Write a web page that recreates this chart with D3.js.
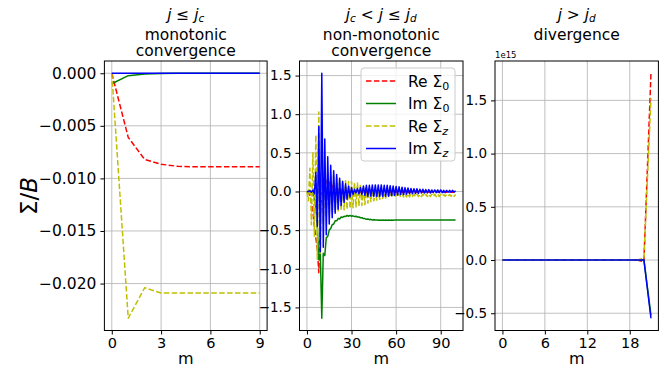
<!DOCTYPE html>
<html><head><meta charset="utf-8">
<script src="https://cdn.jsdelivr.net/npm/d3@7/dist/d3.min.js"></script>
<style>
body{margin:0;background:#fff}
text{font-family:"DejaVu Sans",sans-serif;fill:#000}
</style>
</head><body>
<svg id="c" width="660" height="367"></svg>
<script>
// ---------------- DATA ----------------
const seriesLabels = ["Re Σ0","Im Σ0","Re Σz","Im Σz"];

// panel 1: j <= jc, monotonic convergence
const monoRe0 = [0, -0.0061, -0.0082, -0.00865, -0.00885, -0.0089, -0.0089, -0.0089, -0.0089, -0.0089];
const monoIm0 = [-0.001, -0.00023, -0.00007, -0.00002, 0, 0, 0, 0, 0, 0];
const monoReZ = [0, -0.0233, -0.0204, -0.0209, -0.0209, -0.0209, -0.0209, -0.0209, -0.0209, -0.0209];
const monoImZ = [0, 0, 0, 0, 0, 0, 0, 0, 0, 0];
const monoXTicks = [0, 3, 6, 9];
const monoYTicks = [0, -0.005, -0.01, -0.015, -0.02];
const monoYTickLabels = ["0.000", "−0.005", "−0.010", "−0.015", "−0.020"];

// panel 2: jc < j <= jd, non-monotonic convergence (m = 0..100)
const midRe0 = [
  0, -0.02, -0.05, -0.15, -0.25, -0.45, -0.60, -0.75, -1.05, -0.40,
  0.05, 0.17, 0.10, 0.16, 0.08, 0.12, 0.05, 0.08, 0.03, 0.05,
  0.01, 0.03, 0.00, 0.02, -0.01, 0.01, -0.01, 0.01, -0.01, 0.00,
  -0.01, 0.00, -0.01, 0.00, -0.01, 0.00, -0.01, 0.00, -0.01, 0.00,
  -0.01, 0.00, -0.01, 0.00, -0.01, 0.00, -0.01, 0.00, -0.01, 0.00,
  -0.01, 0.00, -0.01, 0.00, -0.01, 0.00, -0.01, 0.00, -0.01, 0.00,
  -0.01, 0.00, -0.01, 0.00, -0.01, 0.00, -0.01, 0.00, -0.01, 0.00,
  -0.01, 0.00, -0.01, 0.00, -0.01, 0.00, -0.01, 0.00, -0.01, 0.00,
  -0.01, 0.00, -0.01, 0.00, -0.01, 0.00, -0.01, 0.00, -0.01, 0.00,
  -0.01, 0.00, -0.01, 0.00, -0.01, 0.00, -0.01, 0.00, -0.01, 0.00,
  -0.01];
const midIm0 = [
  0, -0.005, -0.01, -0.02, -0.04, -0.08, -0.20, -0.45, -0.88, -0.80,
  -1.64, -0.80, -0.83, -0.60, -0.58, -0.50, -0.48, -0.43, -0.42, -0.38,
  -0.38, -0.35, -0.355, -0.33, -0.335, -0.32, -0.325, -0.31, -0.32, -0.31,
  -0.32, -0.315, -0.325, -0.32, -0.33, -0.33, -0.34, -0.34, -0.35, -0.35,
  -0.36, -0.355, -0.365, -0.36, -0.37, -0.365, -0.37, -0.368, -0.372, -0.368,
  -0.372, -0.368, -0.372, -0.37, -0.372, -0.37, -0.372, -0.37, -0.372, -0.37,
  -0.37, -0.37, -0.37, -0.37, -0.37, -0.37, -0.37, -0.37, -0.37, -0.37,
  -0.37, -0.37, -0.37, -0.37, -0.37, -0.37, -0.37, -0.37, -0.37, -0.37,
  -0.37, -0.37, -0.37, -0.37, -0.37, -0.37, -0.37, -0.37, -0.37, -0.37,
  -0.37, -0.37, -0.37, -0.37, -0.37, -0.37, -0.37, -0.37, -0.37, -0.37,
  -0.37];
const midReZ = [
  0, -0.12, 0.30, -0.43, 0.50, -0.58, 0.73, -0.88, 1.03, -0.80,
  0.45, -0.42, 0.28, -0.33, 0.24, -0.30, 0.22, -0.28, 0.20, -0.27,
  0.18, -0.26, 0.16, -0.25, 0.15, -0.24, 0.14, -0.23, 0.13, -0.22,
  0.13, -0.21, 0.12, -0.20, 0.11, -0.19, 0.09, -0.18, 0.07, -0.17,
  0.05, -0.15, 0.03, -0.13, 0.01, -0.12, 0.00, -0.11, -0.01, -0.10,
  -0.015, -0.09, -0.02, -0.085, -0.02, -0.08, -0.025, -0.075, -0.025, -0.075,
  -0.03, -0.07, -0.03, -0.07, -0.03, -0.07, -0.03, -0.07, -0.03, -0.07,
  -0.035, -0.065, -0.035, -0.065, -0.035, -0.065, -0.035, -0.065, -0.035, -0.065,
  -0.035, -0.065, -0.035, -0.065, -0.035, -0.065, -0.035, -0.065, -0.035, -0.065,
  -0.04, -0.06, -0.04, -0.06, -0.04, -0.06, -0.04, -0.06, -0.04, -0.06,
  -0.04];
const midImZ = [
  0, 0, 0.01, -0.01, 0.02, -0.03, 0.25, -0.45, 0.84, -0.78,
  1.53, -0.72, 0.68, -0.56, 0.45, -0.42, 0.34, -0.34, 0.27, -0.28,
  0.22, -0.23, 0.17, -0.18, 0.13, -0.14, 0.10, -0.10, 0.07, -0.07,
  0.05, -0.04, 0.03, -0.02, 0.04, -0.03, 0.05, -0.04, 0.07, -0.05,
  0.08, -0.06, 0.08, -0.06, 0.085, -0.065, 0.085, -0.065, 0.085, -0.065,
  0.085, -0.065, 0.08, -0.06, 0.08, -0.06, 0.075, -0.055, 0.07, -0.05,
  0.065, -0.045, 0.06, -0.04, 0.055, -0.04, 0.05, -0.035, 0.045, -0.03,
  0.04, -0.03, 0.035, -0.025, 0.035, -0.025, 0.03, -0.02, 0.03, -0.02,
  0.025, -0.02, 0.025, -0.02, 0.02, -0.015, 0.02, -0.015, 0.02, -0.015,
  0.02, -0.015, 0.015, -0.015, 0.015, -0.01, 0.015, -0.01, 0.015, -0.01,
  0.01];
const midXTicks = [0, 30, 60, 90];
const midYTicks = [1.5, 1.0, 0.5, 0.0, -0.5, -1.0, -1.5];
const midYTickLabels = ["1.5", "1.0", "0.5", "0.0", "−0.5", "−1.0", "−1.5"];

// panel 3: j > jd, divergence (m = 0..21)
const divRe0 = [0,0,0,0,0,0,0,0,0,0,0,0,0,0,0,0,0,0,0,0, -0.015e15, 1.755e15];
const divIm0 = [0,0,0,0,0,0,0,0,0,0,0,0,0,0,0,0,0,0,0,0, 0.003e15, -0.52e15];
const divReZ = [0,0,0,0,0,0,0,0,0,0,0,0,0,0,0,0,0,0,0,0, 0.015e15, 1.52e15];
const divImZ = [0,0,0,0,0,0,0,0,0,0,0,0,0,0,0,0,0,0,0,0, 0.0, -0.547e15];
const divXTicks = [0, 6, 12, 18];
const divYTicks = [1.5e15, 1.0e15, 0.5e15, 0.0, -0.5e15];
const divYTickLabels = ["1.5", "1.0", "0.5", "0.0", "−0.5"];

// ---------------- DRAWING ----------------
const svg = d3.select("#c");
const colors = ["#ff0000", "#008000", "#bfbf00", "#0000ff"];
const dashes = ["5.5,2.4", null, "5.5,2.4", null];
const TOP = 61, BOTTOM = 330.5;

const panels = [
  {x0:104.4, x1:267.1, series:[monoRe0,monoIm0,monoReZ,monoImZ], xt:monoXTicks, yt:monoYTicks, ytl:monoYTickLabels, tfs:15.5},
  {x0:299.5, x1:463.0, series:[midRe0,midIm0,midReZ,midImZ], xt:midXTicks, yt:midYTicks, ytl:midYTickLabels, tfs:13.5},
  {x0:495.0, x1:658.4, series:[divRe0,divIm0,divReZ,divImZ], xt:divXTicks, yt:divYTicks, ytl:divYTickLabels, tfs:13.5}
];

panels.forEach((p, pi) => {
  const n = p.series[0].length - 1;
  const x = d3.scaleLinear().domain([-0.05*n, 1.05*n]).range([p.x0, p.x1]);
  const all = p.series.flat();
  const [mn, mx] = d3.extent(all);
  const pad = 0.05*(mx - mn);
  const y = d3.scaleLinear().domain([mn - pad, mx + pad]).range([BOTTOM, TOP]);
  const g = svg.append("g");

  // grid
  g.selectAll(".gx").data(p.xt).join("line")
    .attr("x1", d => x(d)).attr("x2", d => x(d)).attr("y1", TOP).attr("y2", BOTTOM)
    .attr("stroke", "#b0b0b0").attr("stroke-width", 0.8);
  g.selectAll(".gy").data(p.yt).join("line")
    .attr("x1", p.x0).attr("x2", p.x1).attr("y1", d => y(d)).attr("y2", d => y(d))
    .attr("stroke", "#b0b0b0").attr("stroke-width", 0.8);

  // lines
  const clipId = "clip" + pi;
  g.append("clipPath").attr("id", clipId).append("rect")
    .attr("x", p.x0).attr("y", TOP).attr("width", p.x1 - p.x0).attr("height", BOTTOM - TOP);
  const line = d3.line().x((d, i) => x(i)).y(d => y(d));
  p.series.forEach((s, si) => {
    g.append("path").datum(s).attr("d", line)
      .attr("fill", "none").attr("stroke", colors[si]).attr("stroke-width", 1.5)
      .attr("stroke-dasharray", dashes[si]).attr("stroke-linejoin", "round")
      .attr("clip-path", `url(#${clipId})`);
  });

  // frame
  g.append("rect").attr("x", p.x0).attr("y", TOP).attr("width", p.x1 - p.x0).attr("height", BOTTOM - TOP)
    .attr("fill", "none").attr("stroke", "#000").attr("stroke-width", 1);

  // axes
  const xa = d3.axisBottom(x).tickValues(p.xt).tickSizeOuter(0).tickSize(4).tickPadding(3.5);
  const xg = g.append("g").attr("transform", `translate(0,${BOTTOM})`).call(xa);
  xg.select(".domain").remove();
  xg.selectAll("text").attr("font-size", 14.5).attr("font-family", "DejaVu Sans").attr("fill", "#000");
  const ya = d3.axisLeft(y).tickValues(p.yt).tickFormat((d, i) => p.ytl[i]).tickSizeOuter(0).tickSize(4).tickPadding(4);
  const yg = g.append("g").attr("transform", `translate(${p.x0},0)`).call(ya);
  yg.select(".domain").remove();
  yg.selectAll("text").attr("font-size", p.tfs).attr("font-family", "DejaVu Sans").attr("fill", "#000");

  // x label
  g.append("text").attr("x", (p.x0 + p.x1)/2).attr("y", 363.5).attr("text-anchor", "middle")
    .attr("font-size", 16).text("m");

  // titles
  const cx = (p.x0 + p.x1)/2;
  const TF = 15.5, SF = 10.5;
  const t1 = g.append("text").attr("x", cx).attr("y", 19.5).attr("text-anchor", "middle").attr("font-size", TF);
  if (pi === 0) {
    t1.append("tspan").attr("font-style", "italic").text("j");
    t1.append("tspan").text(" ≤ ");
    t1.append("tspan").attr("font-style", "italic").text("j");
    t1.append("tspan").attr("font-style", "italic").attr("font-size", SF).attr("dy", 2).text("c");
  } else if (pi === 1) {
    t1.append("tspan").attr("font-style", "italic").text("j");
    t1.append("tspan").attr("font-style", "italic").attr("font-size", SF).attr("dy", 2).text("c");
    t1.append("tspan").attr("dy", -2).text(" < ");
    t1.append("tspan").attr("font-style", "italic").text("j");
    t1.append("tspan").text(" ≤ ");
    t1.append("tspan").attr("font-style", "italic").text("j");
    t1.append("tspan").attr("font-style", "italic").attr("font-size", SF).attr("dy", 2).text("d");
  } else {
    t1.append("tspan").attr("font-style", "italic").text("j");
    t1.append("tspan").text(" > ");
    t1.append("tspan").attr("font-style", "italic").text("j");
    t1.append("tspan").attr("font-style", "italic").attr("font-size", SF).attr("dy", 2).text("d");
  }
  const lines2 = pi === 0 ? ["monotonic", "convergence"] : pi === 1 ? ["non-monotonic", "convergence"] : ["divergence"];
  lines2.forEach((t, k) => {
    g.append("text").attr("x", cx).attr("y", 39.5 + 16.2*k).attr("text-anchor", "middle")
      .attr("font-size", TF).text(t);
  });

  if (pi === 2) {
    g.append("text").attr("x", p.x0).attr("y", 58).attr("font-size", 8.5).text("1e15");
  }

  // legend in middle panel
  if (pi === 1) {
    const lg = g.append("g");
    lg.append("rect").attr("x", 361).attr("y", 68).attr("width", 94).attr("height", 93)
      .attr("rx", 3).attr("fill", "#fff").attr("fill-opacity", 0.8).attr("stroke", "#cccccc").attr("stroke-width", 1);
    const rowsY = [81, 103.5, 126, 148.5];
    seriesLabels.forEach((lab, si) => {
      lg.append("line").attr("x1", 366).attr("x2", 396).attr("y1", rowsY[si]).attr("y2", rowsY[si])
        .attr("stroke", colors[si]).attr("stroke-width", 1.5).attr("stroke-dasharray", dashes[si]);
      const t = lg.append("text").attr("x", 408).attr("y", rowsY[si] + 5.5).attr("font-size", 15.5);
      t.append("tspan").text(lab.slice(0, 4));
      const sub = lab.slice(4);
      t.append("tspan").attr("font-size", 11).attr("dy", 3)
        .attr("font-style", sub === "z" ? "italic" : "normal").text(sub);
    });
  }
});

// y label
svg.append("text").attr("transform", "translate(37,196) rotate(-90)").attr("text-anchor", "middle")
  .attr("font-size", 23)
  .call(t => {
    t.append("tspan").text("Σ/");
    t.append("tspan").attr("font-style", "italic").text("B");
  });
</script>
</body></html>
